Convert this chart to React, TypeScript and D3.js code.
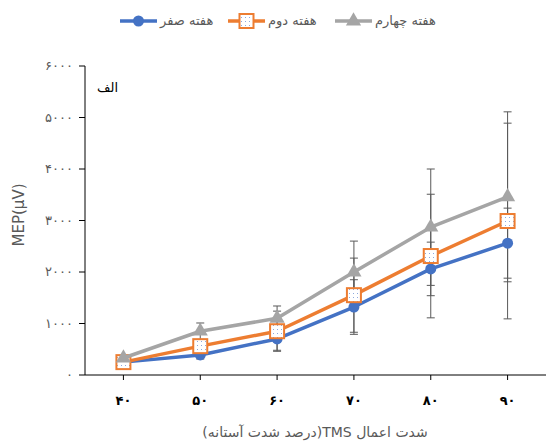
import React from "react";
import * as d3 from "d3";

const categories = ["40", "50", "60", "70", "80", "90"];
const weekZero = [250, 390, 700, 1320, 2060, 2560];
const weekZeroErr = [30, 80, 220, 530, 520, 680];
const weekTwo = [250, 560, 850, 1550, 2310, 2990];
const weekTwoErr = [40, 100, 390, 720, 1200, 1900];
const weekFour = [330, 850, 1100, 2000, 2870, 3460];
const weekFourErr = [40, 160, 240, 600, 1130, 1650];
const yTicks = [0, 1000, 2000, 3000, 4000, 5000, 6000];

const W = 546;
const H = 441;
const FONT = "'DejaVu Sans', sans-serif";

const toFa = (s: string) => s.replace(/\d/g, (c) => "۰۱۲۳۴۵۶۷۸۹"[+c]);

const series = [
	{ name: "هفته صفر", values: weekZero, err: weekZeroErr, color: "#4472C4", marker: "circle" },
	{ name: "هفته دوم", values: weekTwo, err: weekTwoErr, color: "#ED7D31", marker: "square" },
	{ name: "هفته چهارم", values: weekFour, err: weekFourErr, color: "#A5A5A5", marker: "triangle" }
];

function Marker({ type, x, y, color }: { type: string; x: number; y: number; color: string }) {
	if (type === "circle") return <circle cx={x} cy={y} r={5.5} fill={color} />;
	if (type === "square")
		return <rect x={x - 7} y={y - 7} width={14} height={14} fill="url(#dots)" stroke={color} strokeWidth={2} />;
	const tri = d3.symbol(d3.symbolTriangle, 100)();
	return <path d={tri || ""} transform={`translate(${x},${y})`} fill={color} />;
}

export default function App() {
	const x = d3.scaleBand().domain(categories).range([85, 546]);
	const y = d3.scaleLinear().domain([0, 6000]).range([375, 66]);
	const cx = (c: string) => (x(c) || 0) + x.bandwidth() / 2;
	const line = d3
		.line<number>()
		.x((_, i) => cx(categories[i]))
		.y((d) => y(d));

	return (
		<svg width={W} height={H} style={{ position: "absolute", left: 0, top: 0, background: "#fff" }} fontFamily={FONT}>
			<defs>
				<pattern id="dots" width={4} height={4} patternUnits="userSpaceOnUse">
					<rect width={4} height={4} fill="#fff" />
					<rect x={1} y={1} width={1} height={1} fill="#8fa9dc" />
				</pattern>
			</defs>

			{/* legend */}
			{series.map((s, i) => {
				const lx = [120, 228, 335][i];
				return (
					<g key={s.name}>
						<line x1={lx} x2={lx + 37} y1={21} y2={21} stroke={s.color} strokeWidth={3.5} />
						<Marker type={s.marker} x={lx + 18.5} y={21} color={s.color} />
						<text x={lx + 40} y={25} fontSize={13} fill="#595959">
							{s.name}
						</text>
					</g>
				);
			})}

			{/* y axis */}
			<line x1={85} x2={85} y1={66} y2={375} stroke="#000" />
			{yTicks.map((t) => (
				<g key={t}>
					<line x1={79} x2={85} y1={y(t)} y2={y(t)} stroke="#000" />
					<text x={73} y={y(t) + 4} fontSize={13} letterSpacing={2} fill="#595959" textAnchor="end">
						{toFa(String(t))}
					</text>
				</g>
			))}
			<text transform="translate(24,215) rotate(-90)" textAnchor="middle" fontSize={15} fill="#595959">
				MEP(µV)
			</text>

			{/* x axis */}
			<line x1={85} x2={546} y1={375} y2={375} stroke="#000" />
			{categories.map((c) => (
				<g key={c}>
					<line x1={cx(c)} x2={cx(c)} y1={375} y2={380} stroke="#000" />
					<text x={cx(c)} y={405} fontSize={13} letterSpacing={2} fontWeight="bold" textAnchor="middle" fill="#000">
						{toFa(c)}
					</text>
				</g>
			))}
			<text x={315} y={437} fontSize={14} textAnchor="middle" fill="#595959" direction="rtl">
				شدت اعمال TMS(درصد شدت آستانه)
			</text>

			<text x={118} y={92} fontSize={13} textAnchor="end" fill="#000">
				الف
			</text>

			{/* error bars */}
			{series.map((s) =>
				s.values.map((v, i) => {
					const px = cx(categories[i]);
					const top = y(v + s.err[i]);
					const bot = y(v - s.err[i]);
					return (
						<g key={s.name + i} stroke="#595959" strokeWidth={1}>
							<line x1={px} x2={px} y1={top} y2={bot} />
							<line x1={px - 4} x2={px + 4} y1={top} y2={top} />
							<line x1={px - 4} x2={px + 4} y1={bot} y2={bot} />
						</g>
					);
				})
			)}

			{/* lines and markers */}
			{series.map((s) => (
				<g key={s.name}>
					<path d={line(s.values) || ""} fill="none" stroke={s.color} strokeWidth={3.5} strokeLinejoin="round" />
					{s.values.map((v, i) => (
						<Marker key={i} type={s.marker} x={cx(categories[i])} y={y(v)} color={s.color} />
					))}
				</g>
			))}
		</svg>
	);
}
